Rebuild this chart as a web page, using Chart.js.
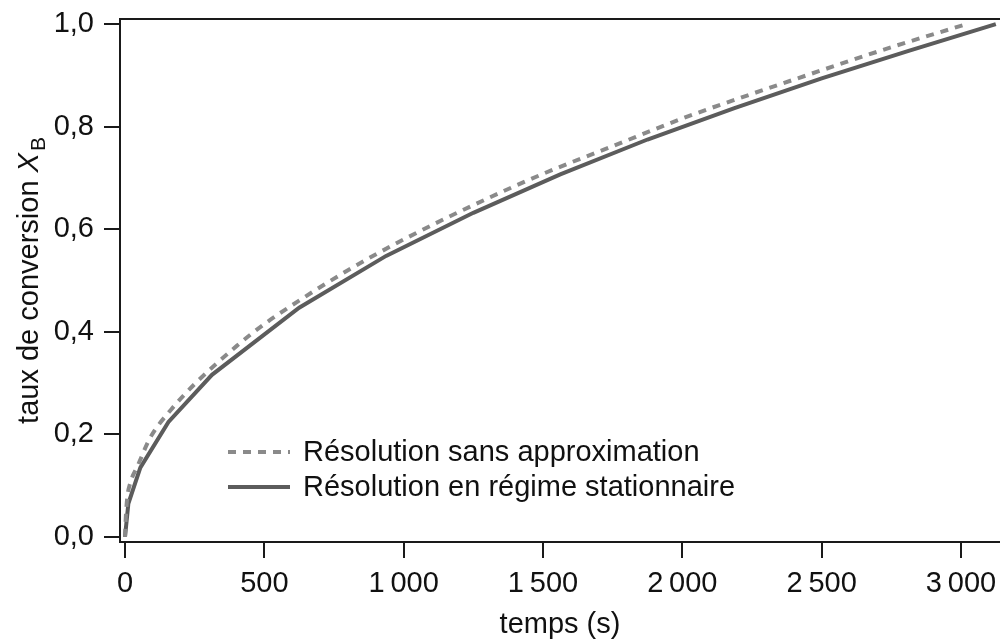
<!DOCTYPE html>
<html lang="fr">
<head>
  <meta charset="UTF-8">
  <title>Taux de conversion en fonction du temps</title>
  <style>
    html, body { margin: 0; padding: 0; background: #fff; }
    .container { width: 1000px; height: 639px; }
  </style>
</head>
<body>
  <div class="container">
    <canvas id="chart" width="1000" height="639"></canvas>
  </div>

  <script src="https://cdn.jsdelivr.net/npm/chart.js@4/dist/chart.umd.min.js"></script>
  <script>
    // Résolution sans approximation (courbe pointillée)
    const TEMPS_EXACT = [0, 3, 8, 20, 45, 90, 165, 250, 400, 500, 600, 800, 1000, 1250, 1500, 1750, 2000, 2250, 2500, 2750, 3020];
    const XB_EXACT = [0, 0.04, 0.076, 0.107, 0.138, 0.193, 0.248, 0.298, 0.372, 0.415, 0.452, 0.52, 0.58, 0.647, 0.708, 0.762, 0.816, 0.864, 0.91, 0.955, 1.0];

    // Résolution en régime stationnaire (courbe continue)
    const TEMPS_STAT = [0, 12, 55, 156, 312, 625, 937, 1250, 1562, 1875, 2187, 2500, 2812, 3125];
    const XB_STAT = [0, 0.065, 0.135, 0.224, 0.316, 0.447, 0.548, 0.632, 0.707, 0.775, 0.836, 0.894, 0.948, 1.0];

    const X_TICKS = [0, 500, 1000, 1500, 2000, 2500, 3000];
    const Y_TICKS = [0, 0.2, 0.4, 0.6, 0.8, 1.0];

    const SERIES_LABELS = ['Résolution sans approximation', 'Résolution en régime stationnaire'];

    const FONT = '"Liberation Sans", Arial, Helvetica, sans-serif';
    const FONT_SIZE = 29;
    const AXIS_COLOR = '#1a1a1a';

    function toPoints(xs, ys) {
      return xs.map((x, i) => ({ x, y: ys[i] }));
    }

    function formatThousands(v) {
      const s = String(v);
      return s.length > 3 ? s.slice(0, -3) + '\u2009' + s.slice(-3) : s;
    }

    // titres d'axes, cadre supérieur et légende dans le graphique
    const decorations = {
      id: 'decorations',
      afterDraw(chart) {
        const { ctx, chartArea } = chart;
        ctx.save();

        ctx.strokeStyle = AXIS_COLOR;
        ctx.lineWidth = 2;
        ctx.beginPath();
        ctx.moveTo(chartArea.left - 1, chartArea.top);
        ctx.lineTo(chartArea.right, chartArea.top);
        ctx.stroke();

        ctx.fillStyle = '#111';
        ctx.textBaseline = 'middle';

        // titre de l'axe x
        ctx.font = `${FONT_SIZE}px ${FONT}`;
        ctx.textAlign = 'center';
        ctx.fillText('temps (s)', (chartArea.left + chartArea.right) / 2, 625);

        // titre de l'axe y : "taux de conversion X_B"
        ctx.save();
        ctx.translate(28, (chartArea.top + chartArea.bottom) / 2);
        ctx.rotate(-Math.PI / 2);
        ctx.textAlign = 'left';
        ctx.textBaseline = 'alphabetic';
        const main = 'taux de conversion ';
        const normalFont = `${FONT_SIZE}px ${FONT}`;
        const italicFont = `italic ${FONT_SIZE}px ${FONT}`;
        const subFont = `${Math.round(FONT_SIZE * 0.72)}px ${FONT}`;
        ctx.font = normalFont;
        const w1 = ctx.measureText(main).width;
        ctx.font = italicFont;
        const w2 = ctx.measureText('X').width;
        ctx.font = subFont;
        const w3 = ctx.measureText('B').width;
        let x = -(w1 + w2 + 2 + w3) / 2;
        const base = 10;
        ctx.font = normalFont;
        ctx.fillText(main, x, base);
        x += w1;
        ctx.font = italicFont;
        ctx.fillText('X', x, base);
        x += w2 + 2;
        ctx.font = subFont;
        ctx.fillText('B', x, base + 7);
        ctx.restore();

        // légende
        ctx.font = `${FONT_SIZE}px ${FONT}`;
        ctx.textAlign = 'left';
        ctx.textBaseline = 'middle';
        chart.data.datasets.forEach((ds, i) => {
          const y = 452 + i * 35;
          ctx.strokeStyle = ds.borderColor;
          ctx.lineWidth = ds.borderWidth;
          ctx.setLineDash(ds.borderDash || []);
          ctx.beginPath();
          ctx.moveTo(228, y);
          ctx.lineTo(290, y);
          ctx.stroke();
          ctx.setLineDash([]);
          ctx.fillStyle = '#111';
          ctx.fillText(ds.label, 303, y + 1);
        });

        ctx.restore();
      }
    };

    const ctx = document.getElementById('chart');
    new Chart(ctx, {
      type: 'line',
      data: {
        datasets: [
          {
            label: SERIES_LABELS[0],
            data: toPoints(TEMPS_EXACT, XB_EXACT),
            borderColor: '#8a8a8a',
            borderWidth: 4,
            borderDash: [8, 7],
            cubicInterpolationMode: 'monotone',
            pointRadius: 0,
            fill: false
          },
          {
            label: SERIES_LABELS[1],
            data: toPoints(TEMPS_STAT, XB_STAT),
            borderColor: '#5c5c5c',
            borderWidth: 4,
            tension: 0,
            pointRadius: 0,
            fill: false
          }
        ]
      },
      plugins: [decorations],
      options: {
        responsive: false,
        animation: false,
        devicePixelRatio: 1,
        layout: { padding: { top: 19, left: 0, right: 0, bottom: 0 } },
        plugins: {
          legend: { display: false },
          tooltip: { enabled: false }
        },
        scales: {
          x: {
            type: 'linear',
            min: -18,
            max: 3140,
            border: { display: true, color: AXIS_COLOR, width: 2 },
            grid: { drawOnChartArea: false, drawTicks: true, tickLength: 16, color: AXIS_COLOR, lineWidth: 2 },
            ticks: {
              color: '#111',
              font: { family: FONT, size: FONT_SIZE },
              padding: 9,
              maxRotation: 0,
              autoSkip: false,
              callback: (v) => formatThousands(v)
            },
            afterBuildTicks: (s) => { s.ticks = X_TICKS.map(v => ({ value: v })); },
            afterFit: (s) => { s.height = 97; s.paddingLeft = 0; s.paddingRight = 0; }
          },
          y: {
            type: 'linear',
            min: -0.01,
            max: 1.01,
            border: { display: true, color: AXIS_COLOR, width: 2 },
            grid: { drawOnChartArea: false, drawTicks: true, tickLength: 16, color: AXIS_COLOR, lineWidth: 2 },
            ticks: {
              color: '#111',
              font: { family: FONT, size: FONT_SIZE },
              padding: 10,
              autoSkip: false,
              callback: (v) => v.toFixed(1).replace('.', ',')
            },
            afterBuildTicks: (s) => { s.ticks = Y_TICKS.map(v => ({ value: v })); },
            afterFit: (s) => { s.width = 120; s.paddingTop = 0; s.paddingBottom = 0; }
          }
        }
      }
    });
  </script>
</body>
</html>
